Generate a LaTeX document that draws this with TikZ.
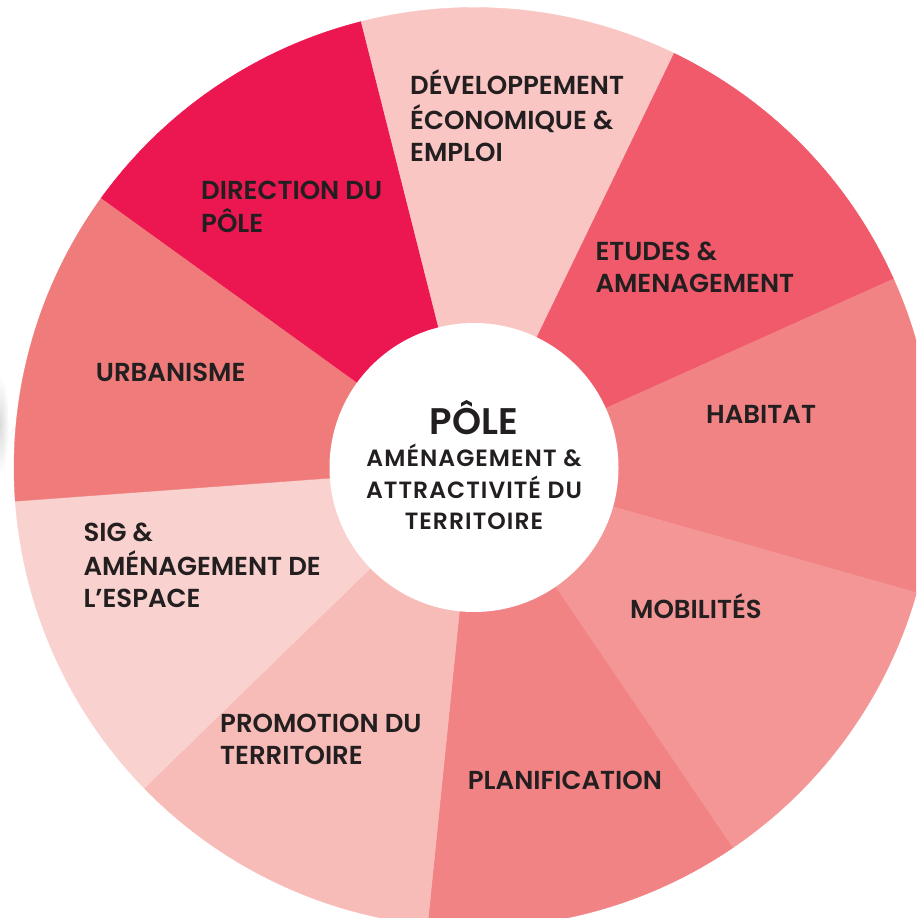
\documentclass[tikz,border=0pt]{standalone}
\usepackage{fontspec}
\setmainfont{Poppins}[BoldFont={Poppins SemiBold}]
\definecolor{ink}{HTML}{231F20}
\definecolor{cdir}{HTML}{EC1651}
\definecolor{cdev}{HTML}{F9C6C3}
\definecolor{cetu}{HTML}{F05A6B}
\definecolor{chab}{HTML}{F28385}
\definecolor{cmob}{HTML}{F49696}
\definecolor{cpla}{HTML}{F28385}
\definecolor{cpro}{HTML}{F8BCB8}
\definecolor{csig}{HTML}{F9D1CE}
\definecolor{curb}{HTML}{F07B7B}
\newcommand\lblfont{\fontsize{26}{31.8}\selectfont\bfseries}
\newcommand\ttlfont{\fontsize{37}{40}\selectfont\bfseries}
\newcommand\subfont{\fontsize{23.5}{30.8}\selectfont\bfseries\addfontfeatures{LetterSpace=4.5}}
\begin{document}
\begin{tikzpicture}[x=1pt,y=1pt,
  lbl/.style={anchor=base west, inner sep=0pt, text=ink, font=\lblfont},
  ctr/.style={anchor=base, inner sep=0pt, text=ink},
  sector/.style={fill=#1, draw=#1, line width=0.4pt}]
\useasboundingbox (0,0) rectangle (916,918);
\clip (0,0) rectangle (916,918);
\shade[inner color=black!14, outer color=white] (0,493) ellipse[x radius=9, y radius=50];
\coordinate (C) at (474,450.5);
\foreach \a/\c in {104.2/cdir, 64.2/cdev, 24.2/cetu, -15.8/chab, -55.8/cmob, -95.8/cpla, -135.8/cpro, -175.8/csig, 144.2/curb}
  \path[sector=\c] (C) -- ++(\a:460) arc[start angle=\a, delta angle=40, radius=460] -- cycle;
\node[circle, fill=white, minimum size=289pt, inner sep=0pt] (hub) at (C) {};
\node[ctr, font=\ttlfont] (title) at (474,483) {PÔLE};
\node[ctr, font=\subfont] (sub) at (474,451.3) {\begin{tabular}[t]{@{}c@{}}AMÉNAGEMENT \&\\ATTRACTIVITÉ DU\\TERRITOIRE\end{tabular}};
\node[lbl] (dev) at (410,823) {\begin{tabular}[t]{@{}l@{}}DÉVELOPPEMENT\\ÉCONOMIQUE \&\\EMPLOI\end{tabular}};
\node[lbl] (dir) at (201,718.7) {\begin{tabular}[t]{@{}l@{}}DIRECTION DU\\PÔLE\end{tabular}};
\node[lbl] (etu) at (595.3,657.3) {\begin{tabular}[t]{@{}l@{}}ETUDES \&\\AMENAGEMENT\end{tabular}};
\node[lbl] (hab) at (706,494) {HABITAT};
\node[lbl] (urb) at (95.7,536.3) {URBANISME};
\node[lbl] (sig) at (83.3,376.7) {\begin{tabular}[t]{@{}l@{}}SIG \&\\AMÉNAGEMENT DE\\L’ESPACE\end{tabular}};
\node[lbl] (pro) at (220,185) {\begin{tabular}[t]{@{}l@{}}PROMOTION DU\\TERRITOIRE\end{tabular}};
\node[lbl] (mob) at (630,299.3) {MOBILITÉS};
\node[lbl] (pla) at (467.7,128.3) {PLANIFICATION};
\end{tikzpicture}
\end{document}
